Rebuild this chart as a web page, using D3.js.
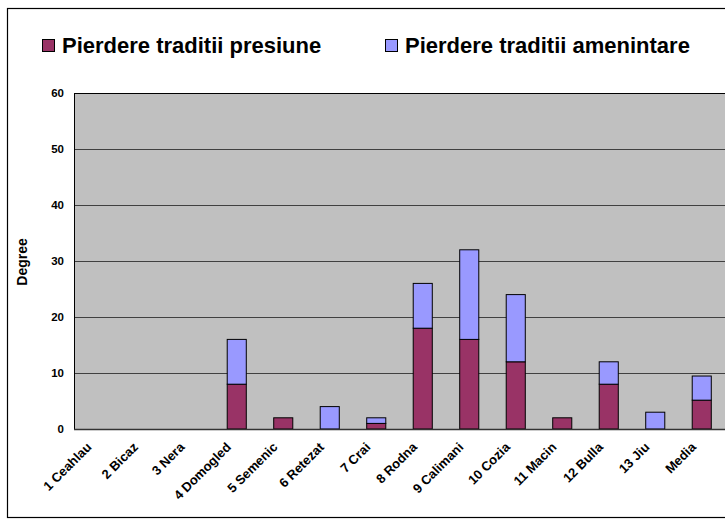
<!DOCTYPE html>
<html>
<head>
<meta charset="utf-8">
<script src="https://cdn.jsdelivr.net/npm/d3@7"></script>
<style>
  body { margin: 0; background: #fff; }
  svg { display: block; font-family: "Liberation Sans", Arial, sans-serif; font-weight: bold; }
</style>
</head>
<body>
<svg id="chart" width="725" height="519"></svg>
<script>
const categories = ["1 Ceahlau", "2 Bicaz", "3 Nera", "4 Domogled", "5 Semenic", "6 Retezat", "7 Crai",
                    "8 Rodna", "9 Calimani", "10 Cozia", "11 Macin", "12 Bulla", "13 Jiu", "Media"];
const presiune    = [0, 0, 0, 8, 2, 0, 1, 18, 16, 12, 2, 8, 0, 5.15];
const amenintare  = [0, 0, 0, 8, 0, 4, 1, 8, 16, 12, 0, 4, 3, 4.31];
const seriesNames = ["Pierdere traditii presiune", "Pierdere traditii amenintare"];
const yTicks = [0, 10, 20, 30, 40, 50, 60];

const colors = ["#993366", "#9999ff"];

const svg = d3.select("#chart");
const plot = {left: 74, right: 725, top: 93, bottom: 429};

// cadru exterior
svg.append("rect")
   .attr("x", 7.5).attr("y", 8.5)
   .attr("width", 730).attr("height", 509)
   .attr("fill", "#fff").attr("stroke", "#000").attr("stroke-width", 1.2);

const x = d3.scaleBand()
            .domain(categories)
            .range([plot.left, plot.right]);

const y = d3.scaleLinear()
            .domain([0, 60])
            .range([plot.bottom, plot.top]);

// fundal gri
svg.append("rect")
   .attr("x", plot.left).attr("y", plot.top)
   .attr("width", plot.right - plot.left + 10).attr("height", plot.bottom - plot.top)
   .attr("fill", "#c0c0c0");

// grila
svg.append("g")
   .selectAll("line")
   .data(yTicks.filter(d => d > 0))
   .enter()
   .append("line")
   .attr("x1", plot.left).attr("x2", plot.right + 10)
   .attr("y1", d => y(d) + 0.5).attr("y2", d => y(d) + 0.5)
   .attr("stroke", d => d === 60 ? "#000" : "#404040")
   .attr("stroke-width", 1);

// bare stivuite
const stacked = categories.map((c, i) => ({
    cat: c,
    segs: [
        {s: 0, start: 0, end: presiune[i]},
        {s: 1, start: presiune[i], end: presiune[i] + amenintare[i]}
    ].filter(d => d.end > d.start)
}));

const barW = x.bandwidth() * 0.41;
stacked.forEach(d => {
    svg.selectAll(null)
       .data(d.segs)
       .enter()
       .append("rect")
       .attr("x", x(d.cat) + (x.bandwidth() - barW) / 2)
       .attr("y", s => y(s.end))
       .attr("width", barW)
       .attr("height", s => y(s.start) - y(s.end))
       .attr("fill", s => colors[s.s])
       .attr("stroke", "#000")
       .attr("stroke-width", 1);
});

// axe
svg.append("line")
   .attr("x1", plot.left + 0.5).attr("x2", plot.left + 0.5)
   .attr("y1", plot.top).attr("y2", plot.bottom)
   .attr("stroke", "#000");
svg.append("line")
   .attr("x1", plot.left).attr("x2", plot.right + 10)
   .attr("y1", plot.bottom + 0.5).attr("y2", plot.bottom + 0.5)
   .attr("stroke", "#333").attr("stroke-width", 1.5);

svg.append("g")
   .selectAll("text")
   .data(yTicks)
   .enter()
   .append("text")
   .attr("x", 64)
   .attr("y", d => y(d))
   .attr("dy", "0.35em")
   .attr("text-anchor", "end")
   .style("font-size", "11.5px")
   .text(d => d);

svg.append("text")
   .attr("transform", "translate(27,262) rotate(-90)")
   .attr("text-anchor", "middle")
   .style("font-size", "14px")
   .text("Degree");

svg.append("g")
   .selectAll("text")
   .data(categories)
   .enter()
   .append("text")
   .attr("transform", d => `translate(${x(d) + x.bandwidth() / 2 - 5},${plot.bottom + 19}) rotate(-45)`)
   .attr("text-anchor", "end")
   .style("font-size", "13px")
   .text(d => d);

// legenda
const legendX = [42, 385];
const legend = svg.append("g");
seriesNames.forEach((name, i) => {
    legend.append("rect")
          .attr("x", legendX[i] + 0.5).attr("y", 39.5)
          .attr("width", 12).attr("height", 12)
          .attr("fill", colors[i]).attr("stroke", "#000");
    legend.append("text")
          .attr("x", legendX[i] + 20).attr("y", 53)
          .style("font-size", "22px")
          .text(name);
});
</script>
</body>
</html>
